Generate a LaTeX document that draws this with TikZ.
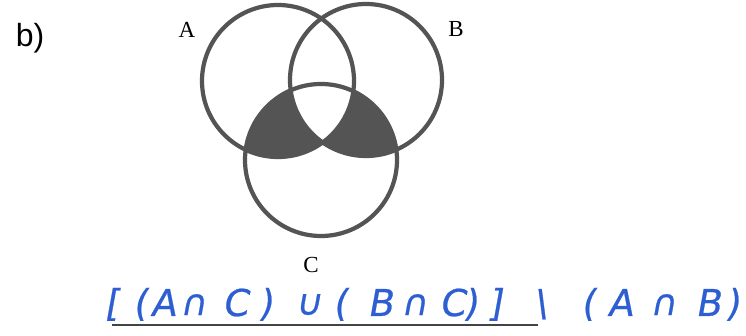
\documentclass[tikz,border=0pt]{standalone}
\usepackage{fontspec}
\setmainfont{Liberation Serif}
\newfontfamily\labelsans{Liberation Sans}
\newfontfamily\handfont{DejaVu Sans}[FakeSlant=0.18,FakeBold=0.6]
\definecolor{ink}{RGB}{84,84,84}
\definecolor{pen}{RGB}{45,95,210}
\begin{document}
\begin{tikzpicture}[x=1pt,y=-1pt,
  ring/.style={draw=ink,line width=4.2pt},
  setlabel/.style={inner sep=0pt,font=\fontsize{23}{23}\selectfont},
  glyph/.style={inner sep=0pt,text=pen,font=\handfont\fontsize{37}{37}\selectfont},
  smallglyph/.style={glyph,font=\handfont\fontsize{36}{36}\selectfont}]
\fill[white] (0,0) rectangle (746,336);
\path[use as bounding box] (0,0) rectangle (746,336);
% centres
\coordinate (cA) at (278,81);
\coordinate (cB) at (366,80);
\coordinate (cC) at (321,160);
% shading
\begin{scope}
  \clip (cC) circle (76);
  \fill[ink] (cA) circle (76);
  \fill[ink] (cB) circle (76);
  \clip (cA) circle (76);
  \fill[white] (cB) circle (76);
\end{scope}
\draw[ring] (cA) circle (76);
\draw[ring] (cB) circle (76);
\draw[ring] (cC) circle (76);
% labels
\node[inner sep=0pt,font=\labelsans\fontsize{32}{32}\selectfont] (lb) at (30,38) {b)};
\node[setlabel] (lA) at (187,30) {A};
\node[setlabel] (lB) at (456,29) {B};
\node[setlabel] (lC) at (311,265) {C};
% handwritten expression
\foreach \i/\x/\g in {1/112/[,2/140/(,3/163/A,5/235/C,6/265/),8/340/(,9/380/B,11/452/C,12/470/),13/494/],14/540/\textbackslash,15/588/(,16/620/A,18/708/B,19/732/)}
  \node[glyph,anchor=base] (g\i) at (\x,316) {\g};
\foreach \i/\x/\g in {4/193/∩,7/308/∪,10/414/∩,17/663/∩}
  \node[smallglyph,anchor=base] (g\i) at (\x,315) {\g};
\coordinate (u1) at (112,325);
\coordinate (u2) at (538,325);
\draw[ink!80!black,line width=1.3pt] (u1) -- (u2);
\end{tikzpicture}
\end{document}
